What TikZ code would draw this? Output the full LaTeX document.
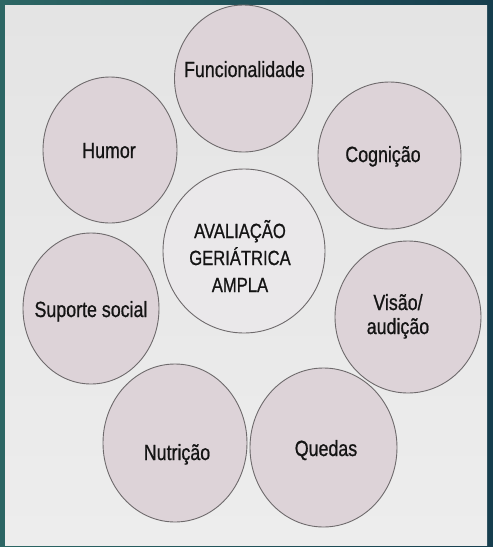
\documentclass[tikz,border=0pt]{standalone}
\usepackage{fontspec}
\setmainfont[FakeStretch=0.81,FakeBold=0.8]{Liberation Sans}
\usetikzlibrary{shapes.geometric}
\definecolor{frameA}{HTML}{2C6664}
\definecolor{frameB}{HTML}{163E4E}
\definecolor{paper}{HTML}{EDEDED}
\definecolor{paperTop}{HTML}{E4E4E4}
\definecolor{outerfill}{HTML}{DDD3D8}
\definecolor{innerfill}{HTML}{EAE8EA}
\definecolor{ring}{HTML}{6E6A6C}
\definecolor{ink}{HTML}{141414}
\tikzset{
  bubble/.style={ellipse, draw=ring, line width=0.9pt, fill=outerfill, inner sep=0pt},
  hub/.style={bubble, fill=innerfill},
  lbl/.style={anchor=base, text=ink, font=\fontsize{22}{24}\selectfont, align=center, inner sep=0pt},
  hublbl/.style={anchor=base, text=ink, font=\fontsize{20.5}{27}\selectfont, align=center, inner sep=0pt}
}
\begin{document}
\begin{tikzpicture}[x=1pt,y=-1pt]
\useasboundingbox (0,0) rectangle (493,547);
\shade[left color=frameA, right color=frameB] (0,0) rectangle (493,547);
\shade[top color=paperTop, bottom color=paper] (5,5) rectangle (487,545);
% circles
\node[bubble, minimum width=138pt, minimum height=147pt] (cfun) at (243.5,78.5) {};
\node[bubble, minimum width=134pt, minimum height=146pt] (chum) at (110,150) {};
\node[bubble, minimum width=143pt, minimum height=147pt] (ccog) at (389.5,155.5) {};
\node[hub, minimum width=162pt, minimum height=164pt] (chub) at (244,251) {};
\node[bubble, minimum width=136pt, minimum height=151pt] (csup) at (91,308.5) {};
\node[bubble, minimum width=146pt, minimum height=152pt] (cvis) at (408,317) {};
\node[bubble, minimum width=144pt, minimum height=158pt] (cnut) at (175,443) {};
\node[bubble, minimum width=147pt, minimum height=159pt] (cque) at (323.5,447.5) {};
% labels
\node[lbl] (tfun) at (244.5,77) {Funcionalidade};
\node[lbl] (thum) at (109,158) {Humor};
\node[lbl] (tcog) at (383,162) {Cognição};
\node[hublbl] (thub) at (240,292) {AVALIAÇÃO\\GERIÁTRICA\\AMPLA};
\node[lbl] (tsup) at (91,317) {Suporte social};
\node[lbl] (tvis) at (398,334) {Visão/\\audição};
\node[lbl] (tnut) at (177,460) {Nutrição};
\node[lbl] (tque) at (326,456) {Quedas};
\end{tikzpicture}
\end{document}
